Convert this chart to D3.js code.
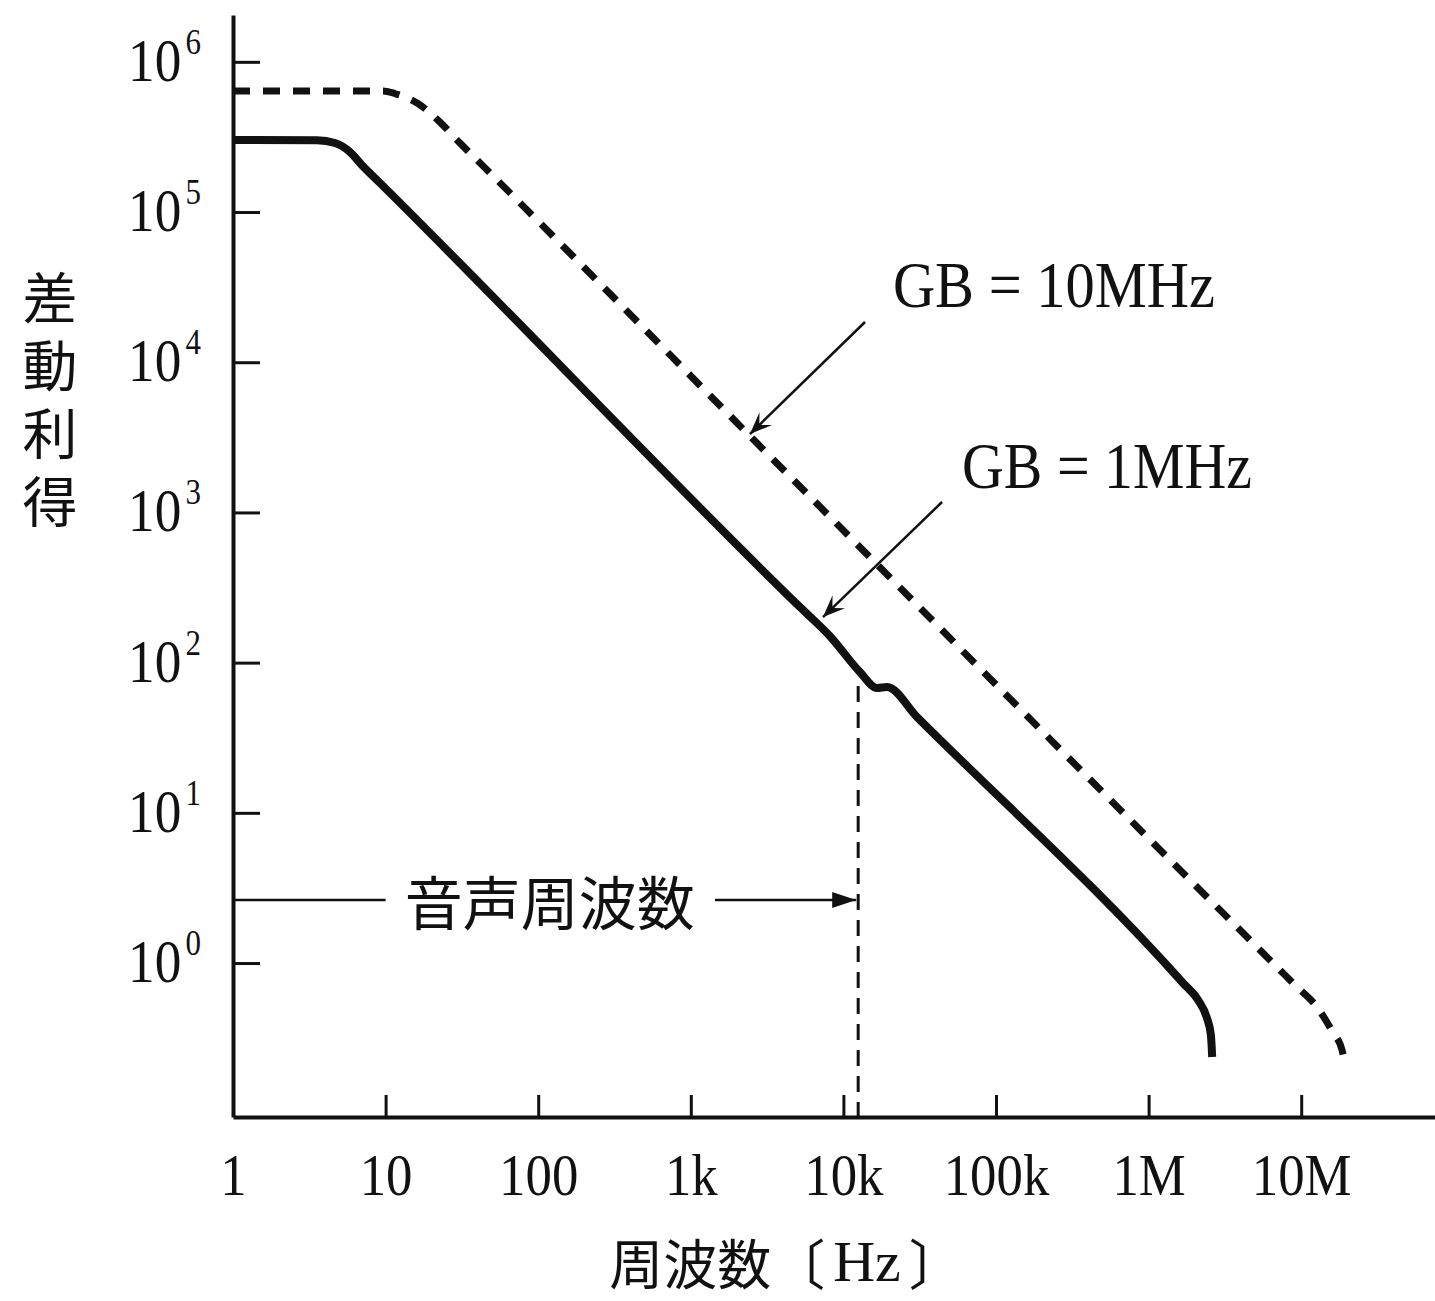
<!DOCTYPE html>
<html>
<head>
<meta charset="utf-8">
<script src="https://cdn.jsdelivr.net/npm/d3@7"></script>
<style>
  body { margin: 0; background: #fff; }
  svg { display: block; }
  .num { font-family: 'Liberation Serif', 'DejaVu Serif', serif; fill: #111; }
  .cjk { font-family: 'Noto Sans CJK JP', sans-serif; fill: #111; }
</style>
</head>
<body>
<div id="chart"></div>
<script>
// tick values and labels
var xTicks = [1, 10, 100, 1e3, 1e4, 1e5, 1e6, 1e7];
var xTickLabels = ['1', '10', '100', '1k', '10k', '100k', '1M', '10M'];
var yTicks = [1, 10, 100, 1e3, 1e4, 1e5, 1e6];
var yTickExp = ['0', '1', '2', '3', '4', '5', '6'];

// GB = 1MHz (solid)
var gb1Freq = [1, 3.55, 4.66, 5.84, 7.0, 9.19, 5200, 8170, 12840, 16600, 19300, 30400, 1.68e6, 2.11e6, 2.41e6, 2.56e6, 2.61e6];
var gb1Gain = [3.02e5, 3.0e5, 2.88e5, 2.51e5, 2.05e5, 1.56e5, 234, 150, 86.5, 67.8, 68.8, 43.4, 0.736, 0.567, 0.431, 0.332, 0.237];

// GB = 10MHz (dashed)
var gb10Freq = [1, 9.6, 11.5, 16.1, 22.7, 30.7, 42.8, 2518, 6.53e6, 9.1e6, 1.27e7, 1.62e7, 1.85e7, 1.94e7];
var gb10Gain = [6.4e5, 6.4e5, 6.15e5, 5.32e5, 3.97e5, 2.88e5, 2.06e5, 3126, 1, 0.714, 0.509, 0.342, 0.264, 0.209];

// audio band marker
var audioFreq = 12500, audioTopGain = 70, audioArrowGain = 2.63;
var audioLeftSeg = [1, 10], audioRightSeg = [1440, 12500], audioLabelFreq = 119;
var audioLabel = '音声周波数';

// GB annotations [freq, gain]
var gb10Arrow = [[13860, 18530], [2443, 3327]];
var gb1Arrow = [[44300, 1173], [7350, 201]];
var gb10Label = [21100, 23300], gb1Label = [59900, 1452];
var gb10Text = 'GB = 10MHz', gb1Text = 'GB = 1MHz';

var yTitle = ['差', '動', '利', '得'];

(function (d3) {
  'use strict';

  var width = 1435, height = 1301;

  var x = d3.scaleLog().domain([1, 7.53e7]).range([233, 1435]);
  var y = d3.scaleLog().domain([0.0944, 2.05e6]).range([1117, 15]);

  var svg = d3.select('#chart').append('svg')
      .attr('width', width)
      .attr('height', height);

  svg.append('rect').attr('width', width).attr('height', height).attr('fill', '#fff');

  var defs = svg.append('defs');
  defs.append('marker')
      .attr('id', 'barb')
      .attr('markerUnits', 'userSpaceOnUse')
      .attr('viewBox', '-24 -12 28 24')
      .attr('refX', 0).attr('refY', 0)
      .attr('markerWidth', 28).attr('markerHeight', 24)
      .attr('orient', 'auto')
    .append('path')
      .attr('d', 'M0,0 L-22,-9 L-13,0 L-22,9 Z')
      .attr('fill', '#111');
  defs.append('marker')
      .attr('id', 'tri')
      .attr('markerUnits', 'userSpaceOnUse')
      .attr('viewBox', '-26 -12 30 24')
      .attr('refX', 0).attr('refY', 0)
      .attr('markerWidth', 30).attr('markerHeight', 24)
      .attr('orient', 'auto')
    .append('path')
      .attr('d', 'M0,0 L-24,-8 L-24,8 Z')
      .attr('fill', '#111');

  // Axes
  var xAxis = d3.axisBottom(x)
      .tickValues(xTicks)
      .tickSize(-22)
      .tickSizeOuter(0)
      .tickFormat(function(d, i) { return xTickLabels[i]; });
  var gx = svg.append('g')
      .attr('transform', 'translate(0,1117)')
      .call(xAxis);
  gx.select('.domain').attr('stroke', '#111').attr('stroke-width', 4);
  gx.selectAll('.tick line').attr('stroke', '#111').attr('stroke-width', 3);
  gx.selectAll('.tick text')
      .attr('class', 'num')
      .attr('y', 78)
      .attr('dy', 0)
      .attr('font-size', 60)
      .attr('transform', 'scale(0.88,1)');

  var yAxis = d3.axisLeft(y)
      .tickValues(yTicks)
      .tickSize(-27)
      .tickSizeOuter(0)
      .tickFormat('');
  var gy = svg.append('g')
      .attr('transform', 'translate(233,0)')
      .call(yAxis);
  gy.select('.domain').attr('stroke', '#111').attr('stroke-width', 4);
  gy.selectAll('.tick line').attr('stroke', '#111').attr('stroke-width', 3);

  // y tick labels 10^n
  var ylab = svg.selectAll('.ylab')
    .data(yTicks)
    .enter().append('text')
      .attr('class', 'num ylab')
      .attr('transform', function(d) { return 'translate(128,' + (y(d) + 19) + ') scale(0.86,1)'; })
      .style('font-size', '62px');
  ylab.append('tspan').text('10');
  ylab.append('tspan')
      .style('font-size', '36px')
      .attr('dx', 5)
      .attr('dy', -27)
      .text(function(d, i) { return yTickExp[i]; });

  // Curves
  var line = d3.line()
      .x(function(d) { return x(d[0]); })
      .y(function(d) { return y(d[1]); })
      .curve(d3.curveMonotoneX);

  var gb10 = gb10Freq.map(function(f, i) { return [f, gb10Gain[i]]; });
  var gb1 = gb1Freq.map(function(f, i) { return [f, gb1Gain[i]]; });

  svg.append('path')
      .datum(gb10)
      .attr('d', line)
      .attr('fill', 'none')
      .attr('stroke', '#111')
      .attr('stroke-width', 7)
      .attr('stroke-dasharray', '17,13');

  svg.append('path')
      .datum(gb1)
      .attr('d', line)
      .attr('fill', 'none')
      .attr('stroke', '#111')
      .attr('stroke-width', 8)
      .attr('stroke-linejoin', 'round');

  // Audio band limit
  svg.append('line')
      .attr('x1', x(audioFreq)).attr('x2', x(audioFreq))
      .attr('y1', y(audioTopGain)).attr('y2', y.range()[0])
      .attr('stroke', '#111')
      .attr('stroke-width', 3)
      .attr('stroke-dasharray', '16,10');

  svg.append('line')
      .attr('x1', x(audioLeftSeg[0])).attr('x2', x(audioLeftSeg[1]))
      .attr('y1', y(audioArrowGain)).attr('y2', y(audioArrowGain))
      .attr('stroke', '#111').attr('stroke-width', 2.5);
  svg.append('line')
      .attr('x1', x(audioRightSeg[0])).attr('x2', x(audioRightSeg[1]) - 2)
      .attr('y1', y(audioArrowGain)).attr('y2', y(audioArrowGain))
      .attr('stroke', '#111').attr('stroke-width', 2.5)
      .attr('marker-end', 'url(#tri)');
  svg.append('text')
      .attr('class', 'cjk')
      .attr('x', x(audioLabelFreq))
      .attr('y', y(audioArrowGain))
      .attr('text-anchor', 'middle')
      .attr('dominant-baseline', 'central')
      .attr('font-size', 58)
      .text(audioLabel);

  // GB annotations
  [gb10Arrow, gb1Arrow].forEach(function(a) {
    svg.append('line')
        .attr('x1', x(a[0][0])).attr('y1', y(a[0][1]))
        .attr('x2', x(a[1][0])).attr('y2', y(a[1][1]))
        .attr('stroke', '#111').attr('stroke-width', 2.5)
        .attr('marker-end', 'url(#barb)');
  });
  svg.append('text')
      .attr('class', 'num')
      .attr('x', x(gb10Label[0])).attr('y', y(gb10Label[1]))
      .attr('font-size', 66)
      .attr('textLength', 322)
      .attr('lengthAdjust', 'spacingAndGlyphs')
      .text(gb10Text);
  svg.append('text')
      .attr('class', 'num')
      .attr('x', x(gb1Label[0])).attr('y', y(gb1Label[1]))
      .attr('font-size', 66)
      .attr('textLength', 290)
      .attr('lengthAdjust', 'spacingAndGlyphs')
      .text(gb1Text);

  // Axis titles (y title stacked vertically, one character per line)
  var yt = svg.append('text')
      .attr('class', 'cjk')
      .attr('text-anchor', 'middle')
      .attr('dominant-baseline', 'central')
      .attr('font-size', 55);
  yt.selectAll('tspan')
    .data(yTitle)
    .enter().append('tspan')
      .attr('x', 50)
      .attr('y', function(d, i) { return 294 + i * 68; })
      .text(function(d) { return d; });

  var xt = svg.append('text')
      .attr('x', 786)
      .attr('y', 1261)
      .attr('text-anchor', 'middle')
      .attr('dominant-baseline', 'central')
      .attr('font-size', 54);
  xt.append('tspan').attr('class', 'cjk').text('周波数〔');
  xt.append('tspan').attr('class', 'num').attr('font-size', 58).attr('dx', 8).text('Hz');
  xt.append('tspan').attr('class', 'cjk').attr('dx', 8).text('〕');

}(d3));
</script>
</body>
</html>
